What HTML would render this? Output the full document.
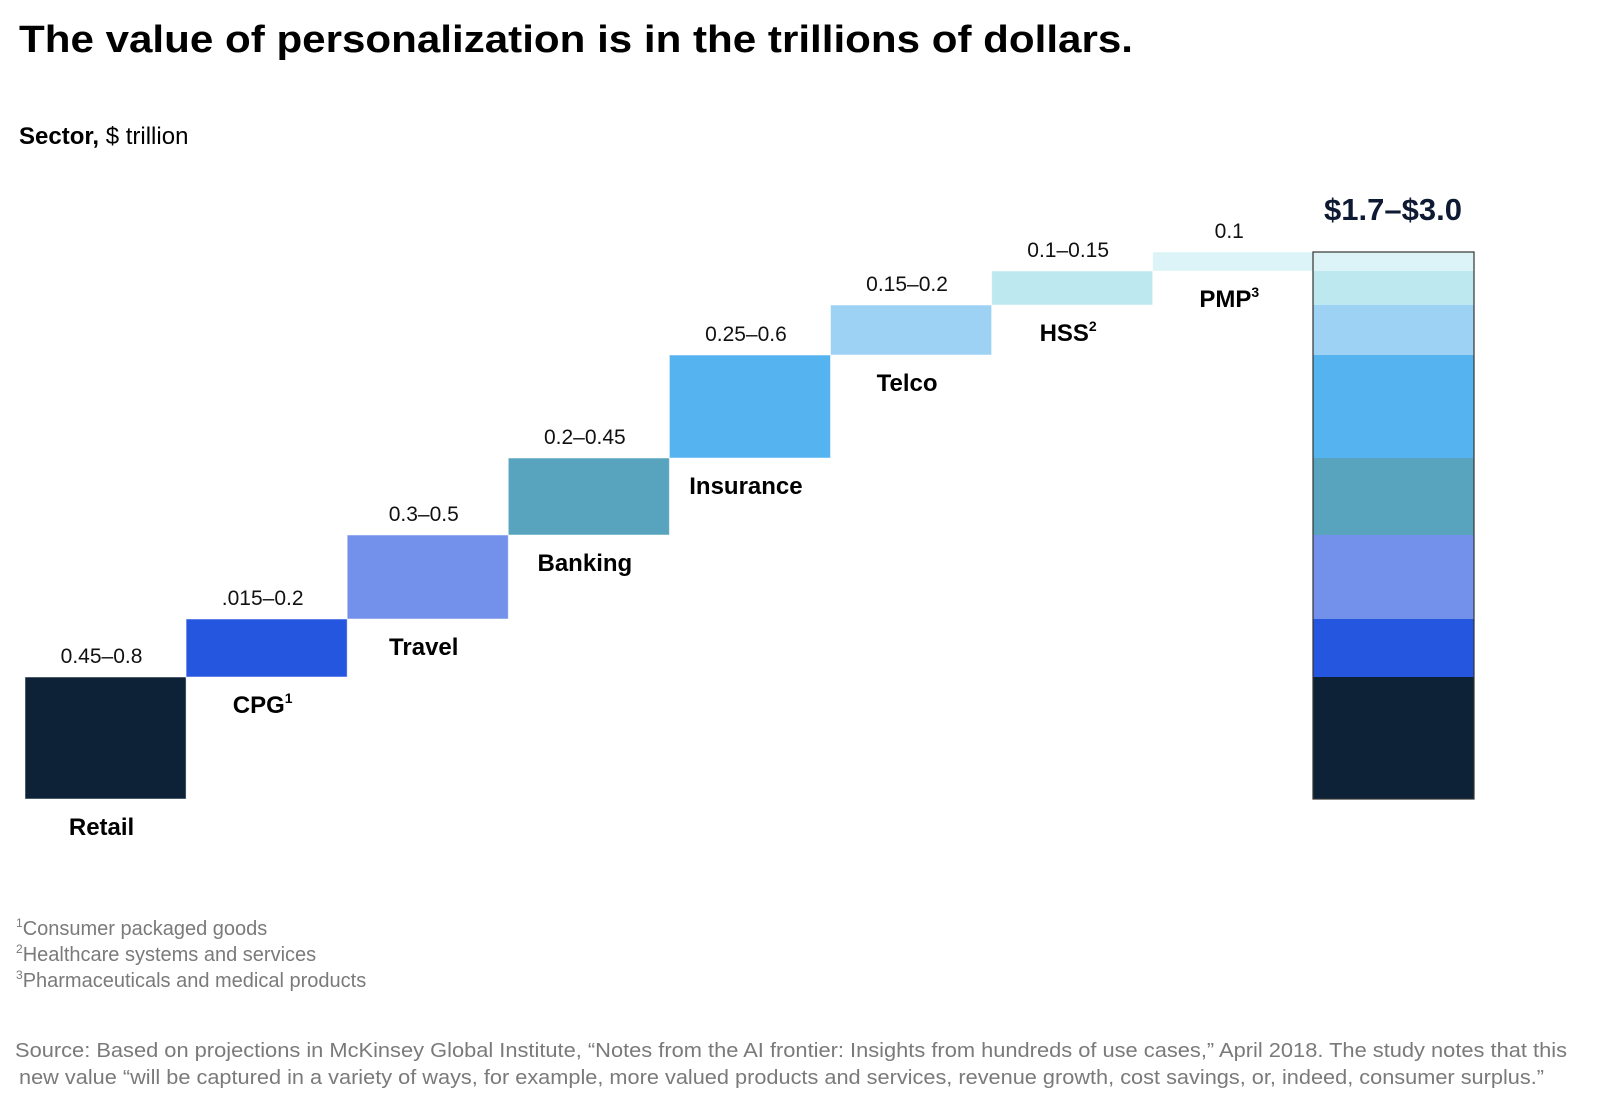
<!DOCTYPE html>
<html><head><meta charset="utf-8"><style>
html,body{margin:0;padding:0;background:#fff;}
svg{display:block;font-family:"Liberation Sans",sans-serif;}
</style></head><body>
<svg id="chart" width="1622" height="1106" viewBox="0 0 1622 1106">
<text x="19" y="52" font-size="38" font-weight="bold" fill="#000" textLength="1114" lengthAdjust="spacingAndGlyphs">The value of personalization is in the trillions of dollars.</text>
<text x="19" y="144" font-size="24" fill="#000"><tspan font-weight="bold">Sector,</tspan> $ trillion</text>
<g id="bars"></g>
<g id="total"></g>
<text x="1393" y="220" font-size="31" font-weight="bold" fill="#0e1a33" text-anchor="middle">$1.7–$3.0</text>
<g fill="#7a7a7a" font-size="20">
<text x="16" y="935"><tspan font-size="12" dy="-8">1</tspan><tspan dy="8">Consumer packaged goods</tspan></text>
<text x="16" y="961"><tspan font-size="12" dy="-8">2</tspan><tspan dy="8">Healthcare systems and services</tspan></text>
<text x="16" y="987"><tspan font-size="12" dy="-8">3</tspan><tspan dy="8">Pharmaceuticals and medical products</tspan></text>
<text x="15" y="1057" textLength="1552" lengthAdjust="spacingAndGlyphs">Source: Based on projections in McKinsey Global Institute, “Notes from the AI frontier: Insights from hundreds of use cases,” April 2018. The study notes that this</text>
<text x="19" y="1084" textLength="1525" lengthAdjust="spacingAndGlyphs">new value “will be captured in a variety of ways, for example, more valued products and services, revenue growth, cost savings, or, indeed, consumer surplus.”</text>
</g>
</svg>
<script>
const categories = ["Retail","CPG","Travel","Banking","Insurance","Telco","HSS","PMP"];
const supers = ["","1","","","","","2","3"];
const valueLabels = ["0.45–0.8",".015–0.2","0.3–0.5","0.2–0.45","0.25–0.6","0.15–0.2","0.1–0.15","0.1"];
const segmentSizes = [1.22,0.58,0.84,0.77,1.03,0.50,0.34,0.19];
const colors = ["#0e2237","#2556e0","#7390eb","#58a3be","#55b3f0","#9dd2f5","#bde8f0","#dcf3f7"];

const NS = "http://www.w3.org/2000/svg";
const baseY = 799, pxPerUnit = 100, x0 = 25, stepW = 161.1;
function yScale(v){ return baseY - v*pxPerUnit; }
function xScale(i){ return x0 + i*stepW; }

const gb = document.getElementById('bars');
const gt = document.getElementById('total');
let cum = 0;
categories.forEach((c,i)=>{
  const yb = yScale(cum), yt = yScale(cum + segmentSizes[i]);
  const r = document.createElementNS(NS,'rect');
  r.setAttribute('x', xScale(i)); r.setAttribute('y', yt);
  r.setAttribute('width', stepW); r.setAttribute('height', yb-yt);
  r.setAttribute('fill', colors[i]);
  r.setAttribute('stroke','rgba(255,255,255,0.5)'); r.setAttribute('stroke-width','1');
  
  
  gb.appendChild(r);
  const cx = xScale(i) + stepW/2 - 4;
  const vl = document.createElementNS(NS,'text');
  vl.setAttribute('x', cx); vl.setAttribute('y', yt-14);
  vl.setAttribute('text-anchor','middle'); vl.setAttribute('font-size','21'); vl.setAttribute('fill','#111');
  vl.textContent = valueLabels[i];
  
  
  gb.appendChild(vl);
  const sl = document.createElementNS(NS,'text');
  sl.setAttribute('x', cx); sl.setAttribute('y', yb+36);
  sl.setAttribute('text-anchor','middle'); sl.setAttribute('font-size','24'); sl.setAttribute('font-weight','bold'); sl.setAttribute('fill','#000');
  sl.textContent = c;
  if (supers[i]) {
    const sp = document.createElementNS(NS,'tspan');
    sp.setAttribute('font-size','14'); sp.setAttribute('dy','-10');
    sp.textContent = supers[i];
    sl.appendChild(sp);
  }
  
  
  gb.appendChild(sl);
  const s = document.createElementNS(NS,'rect');
  s.setAttribute('x', 1313); s.setAttribute('y', yt);
  s.setAttribute('width', 161); s.setAttribute('height', yb-yt);
  s.setAttribute('fill', colors[i]);
  
  
  gt.appendChild(s);
  cum += segmentSizes[i];
});
const outline = document.createElementNS(NS,'rect');
outline.setAttribute('x',1313); outline.setAttribute('y',yScale(cum));
outline.setAttribute('width',161); outline.setAttribute('height',baseY-yScale(cum));
outline.setAttribute('fill','none'); outline.setAttribute('stroke','#333'); outline.setAttribute('stroke-width','1.2');


gt.appendChild(outline);
</script>
</body></html>
